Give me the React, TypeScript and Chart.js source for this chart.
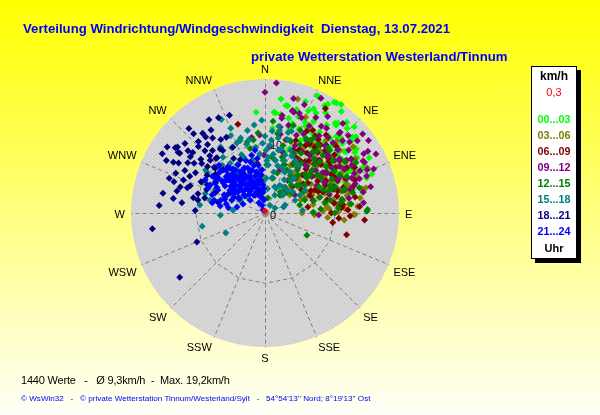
import { useEffect, useRef } from 'react';
import { Chart, registerables } from 'chart.js';

Chart.register(...registerables);

// ---------- data ----------
const TITLE = 'Verteilung Windrichtung/Windgeschwindigkeit  Dienstag, 13.07.2021';
const SUBTITLE = 'private Wetterstation Westerland/Tinnum';
const FOOTER_STATS = '1440 Werte   -   Ø 9,3km/h  -  Max. 19,2km/h';
const FOOTER_COPY = "© WsWin32   -   © private Wetterstation Tinnum/Westerland/Sylt   -   54°54'13'' Nord; 8°19'13'' Ost";
const UNIT_LABEL = 'km/h';
const TIME_UNIT = 'Uhr';

const MAX_SPEED = 19.2;
const DIRECTIONS = ['N', 'NNE', 'NE', 'ENE', 'E', 'ESE', 'SE', 'SSE', 'S', 'SSW', 'SW', 'WSW', 'W', 'WNW', 'NW', 'NNW'];
const RING_TICKS = [0, 10];

const TIME_SLOTS = ['00...03', '03...06', '06...09', '09...12', '12...15', '15...18', '18...21', '21...24'];
const SLOT_COLORS = ['#00FF00', '#808000', '#800000', '#800080', '#008000', '#008080', '#000080', '#0000FF'];
const CALM_LABEL = '0,3';
const CALM_COLOR = '#FF0000';

// [direction in degrees, speed in km/h]
const CALM_POINTS = [[0, 0.3]];

const SLOT_00_03 = [
  [11, 15.7], [9, 14.3], [6, 14.4], [19, 14.6], [23, 15.9], [24, 18.4], [30, 18.0], [32, 18.7], [35, 19.0], [27, 16.1],
  [28, 14.8], [39, 16.2], [44, 16.9], [39, 14.3], [25, 13.7], [17, 13.4], [50, 16.2], [16, 12.7], [49, 13.7], [53, 14.6],
  [56, 15.5], [46, 10.9], [56, 10.9], [61, 11.8], [69, 12.3], [75, 13.0], [71, 15.4], [63, 13.6], [51, 11.5], [55, 13.4],
  [90, 7.1], [18, 9.2], [21, 9.9], [33, 10.4], [5, 14.5], [5, 12.2], [38, 16.3], [49, 16.6], [54, 15.9], [59, 15.4],
  [65, 15.5], [66, 14.5], [64, 13.2], [78, 14.3], [33, 18.8], [25, 18.3], [45, 15.3], [355, 14.5], [12, 15.7], [26, 11.6],
  [34, 11.6], [36, 12.9], [44, 12.4], [45, 13.6], [30, 13.3], [32, 8.9], [68, 10.8], [56, 9.8],
  [28, 12.0], [34, 14.0], [40, 13.0], [43, 15.0], [47, 12.3], [52, 14.4], [58, 12.8], [36, 10.5], [31, 11.5], [22, 13.0],
  [17, 15.5], [42, 17.5], [50, 17.0], [62, 13.5], [68, 14.0], [73, 12.5], [55, 16.0], [46, 10.0], [39, 16.6], [25, 16.5],
  [20, 17.0], [29, 17.6], [37, 18.2], [41, 14.2], [48, 14.9], [53, 12.2], [60, 14.8], [66, 12.5], [70, 16.3], [59, 11.5],
  [14, 14.0], [8, 16.5], [24, 14.2], [31, 16.8], [46, 17.8], [62, 16.9], [35, 15.4], [51, 13.3],
];

const SLOT_03_06 = [
  [45, 6.7], [50, 6.7], [60, 9.4], [85, 8.9], [94, 9.0], [91, 12.9], [81, 11.3], [76, 14.3], [66, 16.0], [59, 15.1],
  [35, 7.0], [69, 6.1], [69, 7.2], [65, 10.5], [71, 10.9], [71, 12.5], [76, 12.5], [52, 11.7], [48, 10.2], [42, 10.7],
  [46, 8.3], [50, 12.6], [57, 12.5], [62, 12.6], [72, 9.0], [64, 6.8], [64, 8.4], [90, 5.3], [92, 7.1], [86, 9.2],
  [91, 12.7], [84, 11.2], [84, 12.1], [16, 17.0], [23, 14.9], [15, 15.1], [37, 12.5], [27, 14.0], [54, 4.4], [48, 9.1],
  [58, 10.1], [58, 11.7], [33, 9.1], [28, 7.7], [41, 11.9], [50, 14.0], [69, 14.2],
  [42, 9.5], [50, 10.8], [55, 9.0], [61, 11.2], [67, 9.7], [73, 10.8], [78, 12.0], [83, 10.4], [87, 11.5], [76, 14.9],
  [69, 13.6], [63, 14.2], [55, 13.1], [47, 12.0], [39, 11.4], [58, 7.8], [66, 7.5], [74, 8.0], [80, 7.0], [88, 8.3],
  [52, 11.9], [60, 9.6], [71, 12.2], [81, 13.8], [64, 10.5],
  [40, 13.6], [45, 14.6], [53, 15.8], [35, 12.0], [30, 10.6], [58, 13.6], [67, 12.4], [79, 10.0], [86, 13.3], [89, 10.5],
  [95, 11.4], [74, 11.3], [62, 8.5], [55, 6.1], [70, 5.5], [82, 8.8], [44, 7.5], [60, 12.9],
];

const SLOT_06_09 = [
  [36, 8.0], [38, 9.3], [48, 9.1], [54, 9.3], [30, 9.1], [26, 9.2], [55, 7.5], [70, 8.8], [85, 10.7], [84, 11.2],
  [80, 11.2], [82, 6.2], [75, 7.1], [60, 11.0], [63, 11.2], [61, 13.4], [70, 13.7], [54, 11.5], [35, 10.5], [41, 11.5],
  [46, 5.4], [37, 11.8], [30, 17.3], [33, 13.2], [27, 13.2], [38, 14.2], [30, 13.7], [23, 11.3], [16, 10.9], [98, 9.8],
  [86, 11.0], [105, 12.1], [94, 14.3], [343, 13.3], [351, 7.2], [45, 7.7], [65, 9.5], [46, 10.9], [73, 10.9], [29, 10.3],
  [32, 12.3], [42, 13.1], [55, 13.1], [41, 6.6], [65, 7.9], [41, 4.4], [21, 7.3],
  [28, 10.2], [33, 11.8], [40, 9.8], [44, 12.4], [49, 10.6], [52, 8.6], [57, 12.0], [62, 9.9], [66, 11.4], [71, 10.3],
  [75, 12.8], [78, 9.1], [82, 10.0], [88, 11.9], [58, 14.6], [47, 14.0], [36, 13.0], [53, 6.9], [64, 7.3], [41, 7.0],
  [73, 13.3], [68, 8.2], [30, 8.3], [45, 10.0], [60, 11.0], [86, 13.6], [92, 12.2], [50, 13.0],
  [24, 9.9], [31, 11.3], [39, 12.6], [43, 8.6], [51, 11.8], [56, 10.4], [59, 8.8], [67, 12.6], [72, 11.8], [77, 10.6],
  [80, 13.1], [90, 9.5], [63, 14.4], [49, 12.0], [35, 9.0], [69, 6.9], [58, 6.2], [94, 10.6],
];

const SLOT_09_12 = [
  [5, 18.7], [0, 17.3], [26, 18.3], [15, 15.2], [21, 14.6], [55, 18.1], [52, 16.8], [43, 15.6], [47, 15.2], [59, 17.2],
  [62, 15.9], [67, 15.9], [70, 14.4], [92, 7.7], [58, 12.6], [57, 13.9], [50, 15.8], [43, 15.8], [40, 14.1], [19, 15.1],
  [10, 13.8], [10, 12.5], [16, 15.0], [16, 9.1], [45, 10.7], [46, 12.5], [67, 12.8], [68, 13.4], [63, 16.0], [66, 14.9],
  [35, 5.7], [59, 5.0], [52, 8.5], [53, 12.5], [55, 10.1], [42, 8.9], [62, 8.4], [359, 8.3], [350, 11.0], [356, 11.2],
  [10, 14.2], [4, 9.5], [33, 14.8], [55, 7.0], [74, 9.6], [74, 11.9], [24, 10.6], [38, 10.5], [19, 6.5], [14, 16.9],
  [61, 14.2], [15, 13.0],
  [30, 12.0], [35, 13.5], [38, 11.0], [44, 14.0], [48, 12.2], [53, 15.0], [57, 10.6], [61, 13.0], [65, 11.5], [70, 15.5],
  [74, 12.8], [78, 14.4], [27, 14.0], [22, 12.0], [33, 16.5], [41, 17.0], [47, 16.3], [56, 11.6], [63, 9.6], [69, 10.6],
  [50, 9.5], [39, 9.0], [45, 11.8], [59, 16.5], [66, 14.0],
  [20, 16.5], [28, 15.5], [36, 15.0], [42, 12.9], [49, 13.8], [54, 13.2], [58, 14.5], [64, 12.0], [72, 13.6], [76, 15.6],
  [80, 12.2], [68, 16.8], [62, 18.0], [51, 18.0], [31, 10.3], [26, 12.6], [11, 11.5], [84, 14.2],
];

const SLOT_12_15 = [
  [5, 13.2], [18, 13.2], [19, 8.0], [11, 7.7], [13, 5.1], [37, 5.9], [37, 7.7], [38, 11.1], [32, 12.3], [47, 10.7],
  [46, 12.9], [70, 10.2], [80, 11.2], [89, 6.9], [74, 8.2], [89, 14.6], [72, 6.0], [54, 4.8], [36, 3.7], [118, 6.8],
  [77, 5.1], [80, 8.7], [17, 8.4], [2, 6.9], [17, 6.0], [27, 6.9], [355, 5.4], [38, 4.7], [341, 11.0], [346, 10.5],
  [347, 9.5], [351, 10.6], [355, 11.5], [7, 8.1], [11, 2.2], [40, 3.3], [46, 4.3], [41, 7.2], [46, 9.9], [45, 11.7],
  [50, 7.8], [70, 10.7], [74, 11.6], [88, 14.7], [86, 10.5], [23, 12.9], [19, 11.0], [63, 12.0], [67, 10.1], [51, 6.4],
  [50, 8.4],
  [26, 9.5], [31, 10.0], [36, 8.8], [42, 10.4], [48, 9.0], [53, 11.0], [58, 9.5], [63, 10.8], [68, 9.0], [73, 11.9],
  [79, 9.5], [84, 12.4], [44, 13.0], [38, 12.4], [29, 12.2], [55, 7.0], [61, 6.3], [22, 7.5], [15, 10.0], [34, 6.5],
  [49, 6.0], [66, 12.8], [76, 7.2], [90, 10.0], [57, 13.6],
  [20, 10.9], [27, 11.0], [33, 12.8], [40, 11.6], [46, 8.0], [52, 12.3], [59, 11.6], [64, 8.6], [71, 9.6], [77, 12.9],
  [82, 11.0], [86, 8.0], [61, 14.9], [54, 9.3], [43, 5.5], [30, 8.0], [9, 11.5], [75, 14.0],
];

const SLOT_15_18 = [
  [335, 14.8], [326, 11.4], [336, 12.1], [341, 11.0], [348, 12.1], [353, 12.7], [358, 13.3], [5, 11.8], [10, 12.0], [16, 12.0],
  [4, 9.7], [12, 9.2], [19, 8.8], [11, 7.7], [4, 6.9], [21, 6.9], [31, 6.9], [11, 5.1], [28, 4.5], [45, 4.6],
  [67, 4.7], [29, 2.9], [32, 1.3], [68, 3.1], [63, 5.6], [60, 6.6], [39, 6.1], [35, 8.3], [10, 10.9], [306, 10.5],
  [305, 10.1], [296, 10.0], [338, 10.8], [342, 11.3], [288, 9.0], [277, 9.4], [283, 8.1], [297, 4.0], [312, 3.4], [275, 4.6],
  [267, 6.4], [329, 4.7], [344, 5.3], [353, 6.2], [347, 7.8], [339, 8.6], [327, 7.3], [325, 8.7], [323, 10.0], [304, 8.3],
  [258, 9.2], [243, 6.3], [63, 1.6], [72, 2.8], [86, 5.4], [338, 13.1], [1, 9.0], [3, 8.0], [22, 9.7], [30, 8.7],
  [24, 3.9], [45, 3.6], [299, 5.4], [295, 7.9],
  [5, 10.5], [8, 8.5], [14, 9.5], [17, 11.0], [2, 7.5], [358, 10.0], [352, 9.5], [345, 10.2], [338, 9.0], [330, 8.0],
  [323, 7.0], [318, 9.2], [12, 6.0], [20, 8.0], [25, 9.0], [350, 6.0], [356, 4.5], [6, 3.5], [30, 5.5], [40, 6.5],
  [0, 11.0], [9, 12.6], [15, 7.0], [26, 6.5], [35, 4.5], [355, 8.5], [348, 10.8], [333, 10.5], [320, 6.5], [312, 7.2],
  [2, 5.0], [20, 4.0], [52, 5.0], [18, 12.3],
];

const SLOT_18_21 = [
  [334, 15.2], [340, 14.9], [318, 15.3], [322, 14.5], [325, 13.1], [329, 12.3], [333, 12.2], [317, 14.0], [307, 15.7], [304, 16.9],
  [309, 14.2], [310, 13.5], [305, 14.9], [299, 15.0], [300, 14.3], [307, 13.4], [308, 11.5], [314, 10.9], [319, 10.5], [320, 11.7],
  [326, 10.8], [334, 10.5], [290, 14.6], [281, 14.9], [279, 13.3], [292, 12.6], [288, 11.7], [282, 10.5], [281, 9.8], [290, 11.4],
  [274, 15.2], [272, 10.0], [287, 12.7], [296, 9.2], [292, 7.7], [283, 6.9], [292, 6.2], [301, 5.8], [312, 9.6], [316, 8.6],
  [303, 9.9], [262, 16.3], [233, 15.3], [247, 10.6], [306, 15.9], [305, 15.2], [335, 8.4], [332, 6.1], [313, 5.9], [327, 3.9],
  [316, 12.4], [298, 13.0], [312, 7.1],
  [300, 11.5], [305, 12.4], [310, 12.0], [315, 13.5], [320, 12.8], [325, 11.2], [296, 10.2], [292, 9.0], [286, 10.0], [312, 9.8],
  [318, 10.5], [302, 8.4], [308, 9.0], [330, 9.0], [284, 13.0], [294, 14.0], [298, 16.0], [327, 14.2],
  [303, 13.2], [311, 15.2], [296, 12.0], [289, 13.8], [284, 8.9], [316, 11.4], [322, 13.8], [329, 15.6], [309, 10.6], [277, 12.0],
  [300, 17.0], [318, 16.3],
];

const SLOT_21_24 = [
  [299, 9.8], [294, 8.9], [305, 9.2], [301, 8.3], [296, 7.5], [312, 8.7], [307, 7.7], [304, 6.9], [316, 7.6], [322, 8.1],
  [313, 6.5], [307, 5.5], [322, 6.7], [331, 7.9], [318, 5.4], [331, 6.7], [327, 5.6], [340, 8.0], [339, 6.9], [338, 5.7],
  [336, 4.5], [347, 7.0], [348, 6.0], [348, 4.8], [348, 3.4], [349, 2.2], [339, 1.2], [356, 4.0], [354, 5.5], [352, 7.9],
  [347, 8.5], [324, 4.1], [311, 4.0], [299, 4.4], [291, 5.1], [283, 5.7], [279, 6.5], [284, 7.5], [278, 5.3], [282, 4.1],
  [292, 3.4], [311, 2.8], [331, 2.9], [329, 1.7], [326, 0.5], [356, 1.9], [356, 6.2], [352, 6.9], [334, 4.0], [327, 4.8],
  [325, 7.5], [318, 8.3], [316, 9.5], [289, 8.0], [294, 6.4], [315, 4.6], [351, 9.1], [303, 6.0], [313, 5.7], [333, 5.9],
  [343, 6.4], [324, 6.1], [310, 7.3], [307, 8.4], [297, 8.8], [342, 4.2], [339, 2.8], [344, 7.6], [335, 7.1], [308, 4.9],
  [320, 7.3], [355, 3.0], [353, 4.7], [281, 7.7],
  [318, 5.2], [322, 6.0], [326, 4.8], [330, 5.8], [334, 4.4], [338, 5.0], [342, 3.8], [345, 5.5], [312, 5.0], [308, 6.2],
  [304, 5.5], [316, 7.0], [320, 3.5], [328, 3.0], [336, 3.2], [344, 2.5], [350, 3.0], [353, 2.0], [357, 3.5], [310, 3.8],
  [300, 4.2], [296, 6.0], [314, 8.8], [324, 7.8], [332, 6.8], [340, 6.2], [347, 4.2], [352, 5.5], [306, 7.4], [298, 7.8],
  [315, 6.2], [319, 4.4], [323, 5.4], [327, 6.4], [331, 4.9], [335, 5.4], [309, 5.8], [313, 7.6], [302, 5.2], [297, 5.0],
  [340, 4.6], [345, 3.4], [349, 4.5], [321, 8.5], [305, 8.6], [329, 6.9], [286, 6.6], [289, 6.1], [318, 6.6], [325, 3.8],
];

const SLOT_DATA = [SLOT_00_03, SLOT_03_06, SLOT_06_09, SLOT_09_12, SLOT_12_15, SLOT_15_18, SLOT_18_21, SLOT_21_24];

// ---------- helpers ----------
const FONT = '"Liberation Sans", Arial, Helvetica, sans-serif';
const toXY = ([dir, spd]: number[]) => {
  const a = (dir * Math.PI) / 180;
  return { x: spd * Math.sin(a), y: spd * Math.cos(a) };
};

const compassPlugin = {
  id: 'compassGrid',
  beforeDatasetsDraw(chart: any) {
    const { ctx } = chart;
    const xs = chart.scales.x;
    const ys = chart.scales.y;
    const cx = xs.getPixelForValue(0);
    const cy = ys.getPixelForValue(0);
    const k = xs.getPixelForValue(1) - cx;
    const R = MAX_SPEED * k;
    const n = DIRECTIONS.length;
    ctx.save();

    // gray disk with fine dotted texture
    const tile = document.createElement('canvas');
    tile.width = 4;
    tile.height = 4;
    const tctx = tile.getContext('2d')!;
    tctx.fillStyle = '#D2D2D2';
    tctx.fillRect(0, 0, 4, 4);
    tctx.fillStyle = '#E2E2E2';
    tctx.fillRect(0, 0, 1, 1);
    tctx.fillRect(2, 2, 1, 1);
    ctx.fillStyle = ctx.createPattern(tile, 'repeat');
    ctx.beginPath();
    ctx.arc(cx, cy, R, 0, Math.PI * 2);
    ctx.fill();

    // spokes
    ctx.strokeStyle = '#808080';
    ctx.lineWidth = 1;
    ctx.setLineDash([4, 3]);
    for (let i = 0; i < n; i++) {
      const a = (i * 2 * Math.PI) / n;
      ctx.beginPath();
      ctx.moveTo(cx + 0.5, cy + 0.5);
      ctx.lineTo(cx + 0.5 + R * Math.sin(a), cy + 0.5 - R * Math.cos(a));
      ctx.stroke();
    }
    // polygon rings
    RING_TICKS.filter((v) => v > 0).forEach((v) => {
      const r = v * k;
      ctx.beginPath();
      for (let i = 0; i <= n; i++) {
        const a = (i * 2 * Math.PI) / n;
        const px = cx + 0.5 + r * Math.sin(a);
        const py = cy + 0.5 - r * Math.cos(a);
        if (i === 0) ctx.moveTo(px, py);
        else ctx.lineTo(px, py);
      }
      ctx.stroke();
    });
    ctx.setLineDash([]);

    // ring labels
    ctx.fillStyle = '#000000';
    ctx.font = `11px ${FONT}`;
    ctx.textAlign = 'left';
    ctx.textBaseline = 'alphabetic';
    RING_TICKS.forEach((v) => {
      ctx.fillText(String(v), cx + 5, cy - v * k + 5.5);
    });

    // direction labels, anchored at a corner just outside the disk
    const r0 = R + 5;
    const capH = 8;
    DIRECTIONS.forEach((lab, i) => {
      const a = (i * 2 * Math.PI) / n;
      const s = Math.sin(a);
      const c = Math.cos(a);
      const ax = cx + r0 * s;
      const ay = cy - r0 * c;
      ctx.textAlign = s > 0.01 ? 'left' : s < -0.01 ? 'right' : 'center';
      let y;
      if (c > 0.01) y = ay - 1;
      else if (c < -0.01) y = ay + capH + 2;
      else y = ay + capH / 2 + 0.5;
      const x = Math.abs(s) > 0.99 ? ax + (s > 0 ? 1 : -1) : ax;
      ctx.fillText(lab, x, y);
    });
    ctx.restore();
  },
};

function ChartCanvas() {
  const ref = useRef<HTMLCanvasElement | null>(null);
  useEffect(() => {
    if (!ref.current) return;
    const datasets: any[] = SLOT_DATA.map((pts, i) => ({
      label: TIME_SLOTS[i],
      data: pts.map(toXY),
      pointStyle: 'rectRot',
      pointRadius: 3.5,
      pointBorderWidth: 0,
      backgroundColor: SLOT_COLORS[i],
      borderColor: SLOT_COLORS[i],
      showLine: false,
      clip: false,
      order: SLOT_DATA.length - i,
    }));
    datasets.push({
      label: CALM_LABEL,
      data: CALM_POINTS.map(toXY),
      pointStyle: 'rectRot',
      pointRadius: 3.5,
      pointBorderWidth: 0,
      backgroundColor: CALM_COLOR,
      borderColor: CALM_COLOR,
      showLine: false,
      clip: false,
      order: -1,
    });
    const chart = new Chart(ref.current, {
      type: 'scatter',
      data: { datasets },
      options: {
        animation: false,
        responsive: false,
        maintainAspectRatio: false,
        events: [],
        layout: { padding: { left: 131, right: 201, top: 79, bottom: 68 } },
        scales: {
          x: { type: 'linear', min: -MAX_SPEED, max: MAX_SPEED, display: false },
          y: { type: 'linear', min: -MAX_SPEED, max: MAX_SPEED, display: false },
        },
        plugins: { legend: { display: false }, tooltip: { enabled: false }, title: { display: false } },
      },
      plugins: [compassPlugin],
    } as any);
    return () => chart.destroy();
  }, []);
  return <canvas ref={ref} width={600} height={415} style={{ position: 'absolute', left: 0, top: 0, width: 600, height: 415 }} />;
}

const abs = (extra: any): any => ({ position: 'absolute', whiteSpace: 'pre', margin: 0, ...extra });

export default function App() {
  const legendTop = 66;
  return (
    <div
      style={{
        position: 'absolute',
        left: 0,
        top: 0,
        width: 600,
        height: 415,
        overflow: 'hidden',
        background: 'linear-gradient(to bottom, #FFFF00 0%, #FFFF30 20%, #FFFFF8 100%)',
        fontFamily: FONT,
      }}
    >
      <ChartCanvas />
      <div style={abs({ left: 23, top: 21.8, fontSize: 13.2, lineHeight: '13.2px', fontWeight: 'bold', color: '#0000FF' })}>{TITLE}</div>
      <div style={abs({ left: 251, top: 50.3, fontSize: 13.2, lineHeight: '13.2px', fontWeight: 'bold', color: '#0000FF' })}>{SUBTITLE}</div>

      <div
        style={abs({
          left: 531,
          top: legendTop,
          width: 46,
          height: 193,
          boxSizing: 'border-box',
          background: '#FFFFFF',
          border: '1px solid #000000',
          boxShadow: '4px 4px 0 #000000',
        })}
      >
        <div style={abs({ left: 0, width: 44, textAlign: 'center', top: 75.7 - legendTop - 1 - 6, fontSize: 12, lineHeight: '12px', fontWeight: 'bold', color: '#000000' })}>{UNIT_LABEL}</div>
        <div style={abs({ left: 0, width: 44, textAlign: 'center', top: 92 - legendTop - 1 - 5.5, fontSize: 11, lineHeight: '11px', color: CALM_COLOR })}>{CALM_LABEL}</div>
        {TIME_SLOTS.map((s, i) => (
          <div
            key={s}
            style={abs({ left: 0, width: 44, textAlign: 'center', top: 119 + 16 * i - legendTop - 1 - 5.4, fontSize: 10.8, lineHeight: '10.8px', fontWeight: 'bold', color: SLOT_COLORS[i] })}
          >
            {s}
          </div>
        ))}
        <div style={abs({ left: 0, width: 44, textAlign: 'center', top: 248 - legendTop - 1 - 5.5, fontSize: 11, lineHeight: '11px', fontWeight: 'bold', color: '#000000' })}>{TIME_UNIT}</div>
      </div>

      <div style={abs({ left: 21, top: 374.7, fontSize: 11, lineHeight: '11px', letterSpacing: '-0.2px', color: '#000000' })}>{FOOTER_STATS}</div>
      <div style={abs({ left: 21, top: 395.2, fontSize: 8.1, lineHeight: '8.1px', color: '#0000FF' })}>{FOOTER_COPY}</div>
    </div>
  );
}
